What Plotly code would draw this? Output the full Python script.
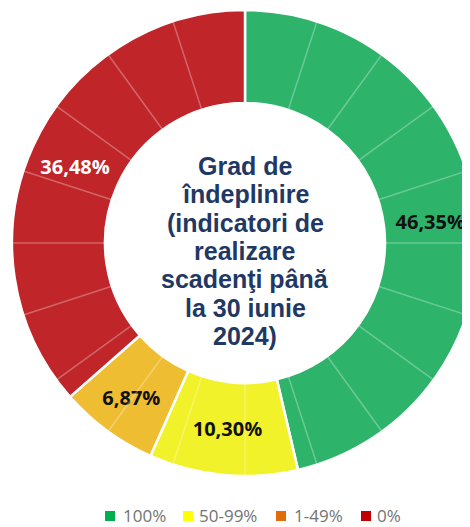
import plotly.graph_objects as go

# ---- data ----
categories = ["100%", "50-99%", "1-49%", "0%"]
shares = [46.35, 10.30, 6.87, 36.48]
slice_colors = ["#2EB36A", "#F2F22A", "#EFBD32", "#BF2529"]
legend_colors = ["#00B050", "#FFFF00", "#E36C09", "#C00000"]
label_colors = ["#111111", "#111111", "#111111", "#FFFFFF"]
center_lines = ["Grad de", "îndeplinire", "(indicatori de", "realizare",
                "scadenţi până", "la 30 iunie", "2024)"]
grid_step = 5  # faint separator every 5 % of the ring (style)

# ---- layout constants (page pixels; page body has an 8px margin) ----
OFF = 8
W, H = 470, 527
CX, CY, R = 245, 243, 233
R_IN = 140
hole = R_IN / R


def px(x):
    return (x - OFF) / W


def py(y):
    return 1 - (y - OFF) / H


domain = dict(x=[px(CX - R), px(CX + R)], y=[py(CY + R), py(CY - R)])

fig = go.Figure()

fig.add_trace(go.Pie(
    labels=categories, values=shares, sort=False, direction="clockwise",
    rotation=0, hole=hole, domain=domain,
    marker=dict(colors=slice_colors, line=dict(color="white", width=2.5)),
    texttemplate="%{percent:.2%}", textposition="inside",
    insidetextorientation="horizontal",
    textfont=dict(family="Open Sans", size=20, color=label_colors, weight=700),
    showlegend=False, hoverinfo="label+percent",
))

n_grid = int(round(100 / grid_step))
fig.add_trace(go.Pie(
    labels=["g%d" % i for i in range(n_grid)], values=[grid_step] * n_grid,
    sort=False, direction="clockwise", rotation=0, hole=hole, domain=domain,
    marker=dict(colors=["rgba(0,0,0,0)"] * n_grid,
                line=dict(color="rgba(255,255,255,0.16)", width=1.5)),
    textinfo="none", hoverinfo="skip", showlegend=False,
))

# centre title, one annotation per line
line_gap = 28.3
first_mid = 166
for i, t in enumerate(center_lines):
    fig.add_annotation(
        x=px(245), y=py(first_mid + i * line_gap), xref="paper", yref="paper",
        text="<b>%s</b>" % t, showarrow=False, xanchor="center", yanchor="middle",
        font=dict(family="Liberation Sans, Arial", size=25, color="#1F3864"),
    )

# legend (drawn as swatches + text)
sq_x = [105, 183, 276, 361]
txt_x = [121, 197, 292, 375]
leg_y = 515
for c, col, sx, tx in zip(categories, legend_colors, sq_x, txt_x):
    fig.add_shape(type="rect", xref="paper", yref="paper",
                  x0=px(sx), x1=px(sx + 10), y0=py(leg_y + 6), y1=py(leg_y - 4),
                  fillcolor=col, line=dict(width=0))
    fig.add_annotation(x=px(tx), y=py(leg_y), xref="paper", yref="paper",
                       text=c, showarrow=False, xanchor="left", yanchor="middle",
                       font=dict(family="Open Sans", size=17, color="#737373"))

fig.update_layout(
    width=W, height=H, margin=dict(l=0, r=0, t=0, b=0),
    paper_bgcolor="white", plot_bgcolor="white", separators=", ",
    showlegend=False,
)

fig.write_html("out.html")
